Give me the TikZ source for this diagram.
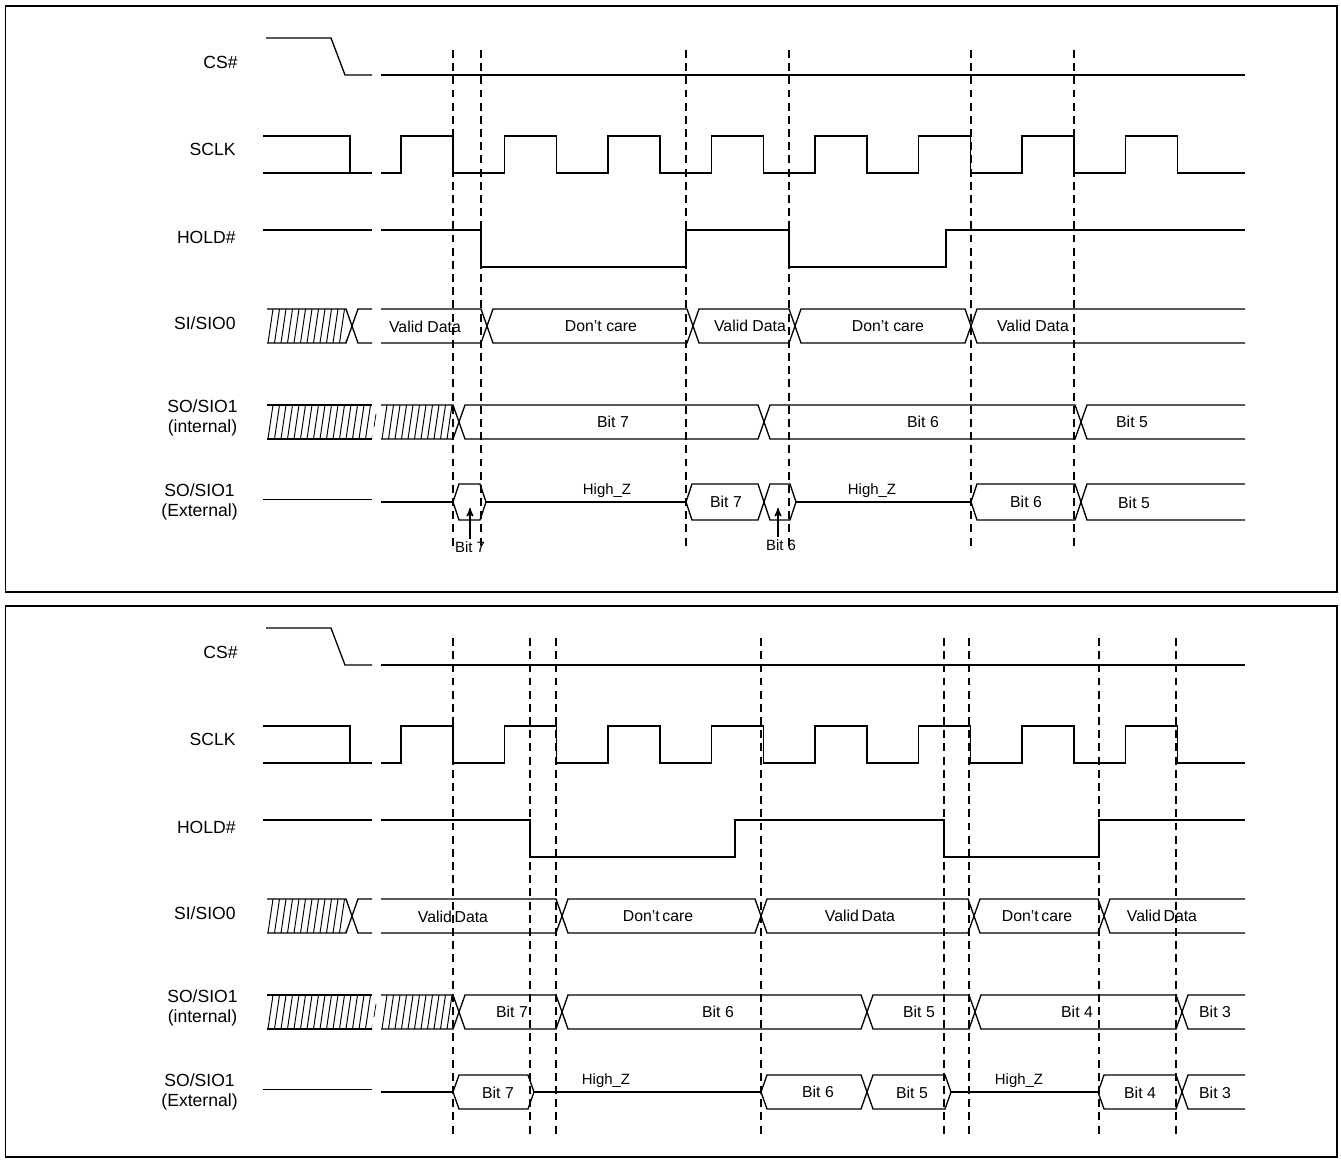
\documentclass[tikz,border=0pt]{standalone}
\usepackage{fontspec}
\setmainfont{Liberation Sans}
\usetikzlibrary{arrows}

% bus segment with a point at both ends
\newcommand{\hexbus}[4]{\draw[wave] (#1,{(#3+#4)/2}) -- ({#1+6},#3) -- ({#2-6},#3) -- (#2,{(#3+#4)/2}) -- ({#2-6},#4) -- ({#1+6},#4) -- cycle;}
% bus segment open on the left
\newcommand{\busopenl}[4]{\draw[wave] (#1,#3) -- ({#2-6},#3) -- (#2,{(#3+#4)/2}) -- ({#2-6},#4) -- (#1,#4);}
% bus segment open on the right
\newcommand{\busopenr}[4]{\draw[wave] (#2,#3) -- ({#1+6},#3) -- (#1,{(#3+#4)/2}) -- ({#1+6},#4) -- (#2,#4);}
% hatched (unknown) data
\newcommand{\hatchbox}[4]{%
  \begin{scope}
    \clip (#1,#3) rectangle (#2,#4);
    \foreach \k in {0,...,17}
      \draw[line width=0.55pt] ({#1+1+6.5*\k},#4) -- ({#1+6+6.5*\k},#3);
  \end{scope}}
% rows that both panels share
\newcommand{\commonrows}[1]{%
  \node[sig] (#1cs)   at (238,62)  {CS\#};
  \node[sig] (#1sclk) at (236,149) {SCLK};
  \node[sig] (#1hold) at (236,237) {HOLD\#};
  \node[sig] (#1si)   at (236,323) {SI/SIO0};
  \node[sig] (#1soi)  at (238,418) {SO/SIO1\\(internal)};
  \node[sig] (#1soe)  at (238,502) {SO/SIO1\\(External)};
  % CS#
  \draw[wave] (266,38) -- (331,38) -- (345,75) -- (372,75);
  \draw[wave] (381,75) -- (1245,75);
  % SCLK
  \draw[wave] (263,136) -- (350,136) -- (350,173);
  \draw[wave] (263,173) -- (372,173);
  \draw[wave] (381,173) foreach \k in {0,...,7} {
      -- ({401+103.5*\k},173) -- ({401+103.5*\k},136)
      -- ({453+103.5*\k},136) -- ({453+103.5*\k},173) } -- (1245,173);
  % HOLD#
  \draw[wave] (263,230) -- (372,230);
  % SI/SIO0
  \hatchbox{267}{346}{309}{343}
  \busopenl{267}{352}{309}{343}
  \busopenr{352}{372}{309}{343}
  % SO/SIO1 internal
  \hatchbox{267}{372}{405}{439}
  \draw[wave] (267,405) -- (372,405) (267,439) -- (372,439);
  \draw[thin] (376,414) -- (374,427);
  \hatchbox{381}{453}{405}{439}
  \busopenl{381}{459}{405}{439}
  % SO/SIO1 external
  \draw[thin] (263,499) -- (372,499);
  \draw[wave] (381,502) -- (453,502);
}

\begin{document}
\begin{tikzpicture}[x=0.2mm,y=-0.2mm,>=stealth',line join=miter,
    wave/.style={line width=0.75pt},
    guide/.style={line width=0.65pt,dash pattern=on 4.5pt off 3pt},
    frame/.style={line width=0.8pt},
    sig/.style={font=\fontsize{10}{11.5}\selectfont,align=center,anchor=east,inner sep=0pt},
    lbl/.style={font=\fontsize{9}{10}\selectfont,inner sep=0pt},
    small/.style={font=\fontsize{8.5}{10}\selectfont,inner sep=1pt}]
  \useasboundingbox (0,0) rectangle (1341,1161);

  % ---- upper panel ----
  \draw[frame] (5.5,6) rectangle (1337,592);
  \commonrows{t}
  \draw[wave] (381,230) -- (481,230) -- (481,267) -- (686,267) -- (686,230)
              -- (789,230) -- (789,267) -- (946,267) -- (946,230) -- (1245,230);

  \busopenl{381}{487}{309}{343}
  \hexbus{487}{693}{309}{343}
  \hexbus{693}{795}{309}{343}
  \hexbus{795}{971}{309}{343}
  \busopenr{971}{1245}{309}{343}
  \node[lbl] (tsi1) at (425,327) {Valid Data};
  \node[lbl] (tsi2) at (601,326) {Don’t care};
  \node[lbl] (tsi3) at (750,326) {Valid Data};
  \node[lbl] (tsi4) at (888,326) {Don’t care};
  \node[lbl] (tsi5) at (1033,326) {Valid Data};

  \hexbus{459}{764}{405}{439}
  \hexbus{764}{1081}{405}{439}
  \busopenr{1081}{1245}{405}{439}
  \node[lbl] (tin7) at (613,422) {Bit 7};
  \node[lbl] (tin6) at (923,422) {Bit 6};
  \node[lbl] (tin5) at (1132,422) {Bit 5};

  \hexbus{453}{486}{484}{520}
  \draw[wave] (486,502) -- (686,502);
  \hexbus{686}{764}{484}{520}
  \hexbus{764}{796}{484}{520}
  \draw[wave] (796,502) -- (971,502);
  \hexbus{971}{1081}{484}{520}
  \busopenr{1081}{1245}{484}{520}
  \node[small] (thz1) at (607,491) {High\_Z};
  \node[lbl]   (tex7) at (726,502) {Bit 7};
  \node[small] (thz2) at (872,491) {High\_Z};
  \node[lbl]   (tex6) at (1026,502) {Bit 6};
  \node[lbl]   (tex5) at (1134,503) {Bit 5};

  \node[small] (tb7) at (470,547) {Bit 7};
  \node[small] (tb6) at (781,545) {Bit 6};
  \coordinate (tp7) at (470,508);
  \coordinate (tp6) at (778,508);
  \draw[->,wave] (tb7.north) -- (tp7);
  \draw[->,wave] (tp6 |- tb6.north) -- (tp6);

  \foreach \x in {453,481,686,789,971,1074}
    \draw[guide] (\x,50) -- (\x,548);

  % ---- lower panel ----
  \begin{scope}[shift={(0,590)}]
  \draw[frame] (5.5,16) rectangle (1337,567);
  \commonrows{b}
  \draw[wave] (381,230) -- (530,230) -- (530,267) -- (735,267) -- (735,230)
              -- (944,230) -- (944,267) -- (1099,267) -- (1099,230) -- (1245,230);

  \busopenl{381}{562}{309}{343}
  \hexbus{562}{761}{309}{343}
  \hexbus{761}{974}{309}{343}
  \hexbus{974}{1104}{309}{343}
  \busopenr{1104}{1245}{309}{343}
  \node[lbl] (bsi1) at (453,327) {Valid\,Data};
  \node[lbl] (bsi2) at (658,326) {Don’t\,care};
  \node[lbl] (bsi3) at (860,326) {Valid\,Data};
  \node[lbl] (bsi4) at (1037,326) {Don’t\,care};
  \node[lbl] (bsi5) at (1162,326) {Valid\,Data};

  \hexbus{459}{562}{405}{439}
  \hexbus{562}{867}{405}{439}
  \hexbus{867}{975}{405}{439}
  \hexbus{975}{1182}{405}{439}
  \busopenr{1182}{1245}{405}{439}
  \node[lbl] (bin7) at (512,422) {Bit 7};
  \node[lbl] (bin6) at (718,422) {Bit 6};
  \node[lbl] (bin5) at (919,422) {Bit 5};
  \node[lbl] (bin4) at (1077,422) {Bit 4};
  \node[lbl] (bin3) at (1215,422) {Bit 3};

  \hexbus{453}{534}{485}{519}
  \draw[wave] (534,502) -- (761,502);
  \hexbus{761}{867}{485}{519}
  \hexbus{867}{951}{485}{519}
  \draw[wave] (951,502) -- (1098,502);
  \hexbus{1098}{1182}{485}{519}
  \busopenr{1182}{1245}{485}{519}
  \node[lbl]   (bex7) at (498,503) {Bit 7};
  \node[small] (bhz1) at (606,491) {High\_Z};
  \node[lbl]   (bex6) at (818,502) {Bit 6};
  \node[lbl]   (bex5) at (912,503) {Bit 5};
  \node[small] (bhz2) at (1019,491) {High\_Z};
  \node[lbl]   (bex4) at (1140,503) {Bit 4};
  \node[lbl]   (bex3) at (1215,503) {Bit 3};

  \foreach \x in {453,530,556,761,944,969,1099,1176}
    \draw[guide] (\x,48) -- (\x,547);
  \end{scope}
\end{tikzpicture}
\end{document}
